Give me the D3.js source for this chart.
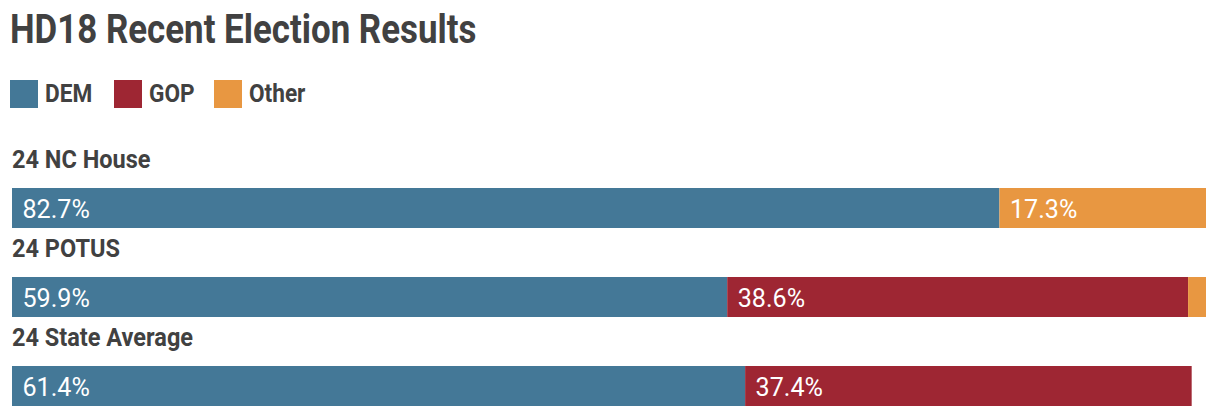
<!DOCTYPE html>
<html><head><meta charset="utf-8">
<script src="https://cdn.jsdelivr.net/npm/d3@7"></script>
<style>body{margin:0;background:#fff}</style>
</head><body>
<svg id="c" width="1220" height="418"></svg>
<script>
const categories = ["24 NC House", "24 POTUS", "24 State Average"];
const seriesNames = ["DEM", "GOP", "Other"];
const demValues = [82.7, 59.9, 61.4];
const gopValues = [0, 38.6, 37.4];
const otherValues = [17.3, 1.5, 0];
const colors = ["#447897", "#9e2633", "#e89741"];

const svg = d3.select("#c");
const textColor = "#414141";
const font = "Roboto, sans-serif";

function condensedText(parent, tx, ty, s, str) {
  return parent.append("text")
    .attr("transform", `translate(${tx},${ty}) scale(${s},1)`)
    .attr("font-family", font)
    .text(str);
}

condensedText(svg, 10, 43, 0.855, "HD18 Recent Election Results")
  .attr("font-weight", "bold").attr("font-size", 40.8).attr("fill", textColor);

const leg = svg.append("g");
const legX = [10, 114, 214];
seriesNames.forEach((s, i) => {
  leg.append("rect").attr("x", legX[i]).attr("y", 80).attr("width", 28).attr("height", 28).attr("fill", colors[i]);
  condensedText(leg, legX[i] + 35, 102, 0.88, s)
    .attr("font-weight", "bold").attr("font-size", 25.7).attr("fill", textColor);
});

const x = d3.scaleLinear().domain([0, 100]).range([12, 1206]);
const y = d3.scalePoint().domain(categories).range([188, 366]);

const rows = categories.map((c, i) => ({cat: c, vals: [demValues[i], gopValues[i], otherValues[i]]}));
rows.forEach(r => {
  const g = svg.append("g");
  condensedText(g, 12, y(r.cat) - 20, 0.93, r.cat)
    .attr("font-weight", "bold").attr("font-size", 25.3).attr("fill", textColor);
  let acc = 0;
  r.vals.forEach((v, j) => {
    if (v <= 0) return;
    g.append("rect").attr("x", x(acc)).attr("y", y(r.cat)).attr("width", x(acc + v) - x(acc)).attr("height", 40).attr("fill", colors[j]);
    if (v > 5) {
      condensedText(g, x(acc) + 10.5, y(r.cat) + 29.7, 0.97, d3.format(".1f")(v) + "%")
        .attr("font-size", 25.9).attr("fill", "#fff");
    }
    acc += v;
  });
});
</script>
</body></html>
